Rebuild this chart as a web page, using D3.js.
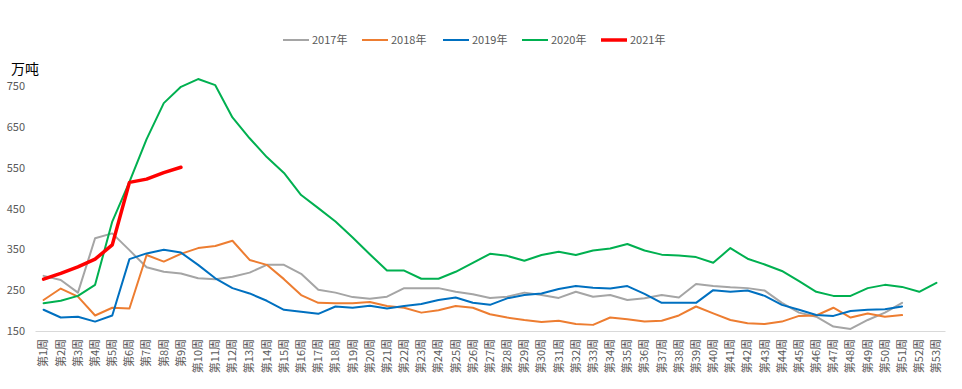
<!DOCTYPE html>
<html>
<head>
<meta charset="utf-8">
<script src="https://cdn.jsdelivr.net/npm/d3@7"></script>
<style>
  html, body { margin: 0; padding: 0; background: #fff; }
  svg text { font-family: "Noto Sans CJK SC", "Noto Sans", sans-serif; }
</style>
</head>
<body>
<div id="root"></div>
<script>
const WIDTH = 962
const HEIGHT = 389

const weeks = d3.range(1, 54).map(i => `第${i}周`)
const yTicks = [150, 250, 350, 450, 550, 650, 750]

const v2017 = [285, 275, 244, 377, 389, 348, 306, 295, 291, 279, 277, 283, 293, 312, 312, 290, 251, 244, 233, 229, 234, 255, 255, 255, 246, 240, 231, 234, 244, 238, 231, 246, 234, 238, 226, 230, 238, 232, 265, 260, 257, 255, 249, 219, 195, 185, 161, 155, 177, 195, 219]
const v2018 = [226, 254, 234, 188, 207, 205, 336, 320, 339, 353, 358, 371, 324, 312, 277, 238, 219, 218, 218, 221, 211, 207, 195, 201, 211, 207, 191, 183, 177, 172, 175, 167, 165, 183, 179, 173, 175, 188, 210, 193, 177, 169, 167, 173, 187, 188, 207, 183, 193, 185, 189]
const v2019 = [202, 183, 185, 173, 188, 326, 340, 349, 342, 312, 279, 255, 242, 224, 202, 197, 192, 210, 207, 212, 205, 211, 216, 226, 232, 219, 214, 230, 238, 242, 253, 260, 256, 254, 260, 241, 219, 219, 219, 250, 246, 249, 236, 214, 202, 189, 187, 199, 202, 203, 210]
const v2020 = [218, 224, 236, 263, 418, 515, 620, 708, 748, 767, 752, 673, 622, 576, 537, 483, 451, 418, 379, 338, 298, 298, 278, 278, 295, 317, 339, 334, 322, 336, 344, 336, 347, 352, 363, 347, 337, 335, 331, 317, 353, 327, 313, 297, 272, 246, 236, 236, 255, 263, 258, 246, 268]
const v2021 = [277, 291, 307, 326, 361, 514, 522, 538, 551]

const series = [
  { name: '2017年', values: v2017, color: '#a5a5a5', width: 2 },
  { name: '2018年', values: v2018, color: '#ed7d31', width: 2 },
  { name: '2019年', values: v2019, color: '#0070c0', width: 2 },
  { name: '2020年', values: v2020, color: '#00b050', width: 2 },
  { name: '2021年', values: v2021, color: '#ff0000', width: 3.5 }
]

const x = d3.scaleBand()
  .domain(weeks)
  .range([35, 945])

const y = d3.scaleLinear()
  .domain([150, 750])
  .range([331, 86])

const svg = d3.select('#root')
  .append('svg')
  .attr('width', WIDTH)
  .attr('height', HEIGHT)

// y axis labels
const yAxis = svg.append('g')
  .attr('transform', 'translate(25, 0)')
  .call(d3.axisLeft(y).tickValues(yTicks).tickSize(0).tickPadding(0))
yAxis.select('.domain').remove()
yAxis.selectAll('text')
  .attr('fill', '#595959')
  .style('font-size', '11px')

// x axis
const xAxis = svg.append('g')
  .attr('transform', 'translate(0, 331)')
  .call(d3.axisBottom(x).tickSize(0).tickPadding(0))
xAxis.select('.domain')
  .attr('stroke', '#d9d9d9')
  .attr('stroke-width', 1)
xAxis.selectAll('text')
  .attr('fill', '#595959')
  .style('font-size', '11px')
  .attr('text-anchor', 'end')
  .attr('dy', '0.35em')
  .attr('y', 0)
  .attr('transform', 'translate(0, 8) rotate(-90)')

// unit
svg.append('text')
  .attr('x', 11)
  .attr('y', 74)
  .attr('fill', '#000')
  .style('font-size', '14px')
  .text('万吨')

const line = d3.line()
  .x((d, i) => x(weeks[i]) + x.bandwidth() / 2)
  .y(d => y(d))

svg.append('g')
  .selectAll('path')
  .data(series)
  .enter()
  .append('path')
  .attr('d', d => line(d.values))
  .attr('fill', 'none')
  .attr('stroke', d => d.color)
  .attr('stroke-width', d => d.width)
  .attr('stroke-linejoin', 'round')
  .attr('stroke-linecap', 'round')

// legend
const legendX = [283, 362, 443, 522, 601]
const legend = svg.append('g')
  .selectAll('g')
  .data(series)
  .enter()
  .append('g')
  .attr('transform', (d, i) => `translate(${legendX[i]}, 40)`)

legend.append('line')
  .attr('x1', 0)
  .attr('x2', 26)
  .attr('stroke', d => d.color)
  .attr('stroke-width', d => d.width)

legend.append('text')
  .attr('x', 29)
  .attr('dy', '0.35em')
  .attr('fill', '#595959')
  .style('font-size', '11px')
  .text(d => d.name)
</script>
</body>
</html>
